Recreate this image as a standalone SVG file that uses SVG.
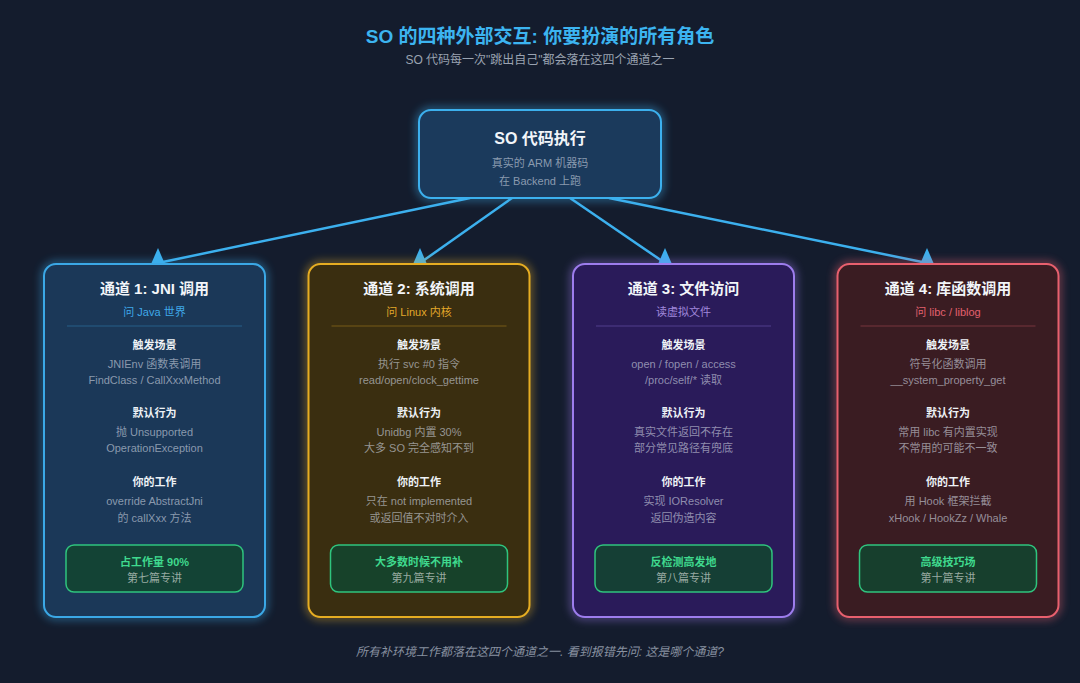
<svg xmlns="http://www.w3.org/2000/svg" width="1080" height="683" viewBox="0 0 1080 683">
<defs>
<filter id="glow" x="-20%" y="-20%" width="140%" height="140%">
<feGaussianBlur stdDeviation="4"/>
</filter>
<marker id="tri" markerUnits="userSpaceOnUse" markerWidth="16" markerHeight="14" refX="0" refY="6.5" orient="270" overflow="visible">
<path d="M0,0 L15,6.5 L0,13 z" fill="#3cb0ee"/>
</marker>
<style>
text{font-family:"Liberation Sans","Noto Sans CJK SC",sans-serif;text-anchor:middle}
.title{font-size:19px;font-weight:bold;fill:#3cb4f0}
.sub{font-size:12px;fill:#9aa3b1}
.ntitle{font-size:16px;font-weight:bold;fill:#f2f5f9}
.ctitle{font-size:15px;font-weight:bold;fill:#f2f5f9}
.csub{font-size:11px}
.hdr{font-size:11px;font-weight:bold;fill:#eef2f6}
.body{font-size:11px;fill:#d6dce6;fill-opacity:0.6}
.gtitle{font-size:11px;font-weight:bold;fill:#3fd98e}
.gsub{font-size:11px;fill:#c4cec8;fill-opacity:0.75}
.glowr{fill:none;stroke-width:5;opacity:0.6;filter:url(#glow)}
.card{stroke-width:2}
.gbox{fill:#12452f;fill-opacity:0.85;stroke:#2fc47e;stroke-width:1.5}
.conn{stroke:#3cb0ee;stroke-width:2.5;fill:none;marker-end:url(#tri)}
.foot{font-size:12px;font-style:italic;fill:#8891a0}
</style>
</defs>
<rect width="1080" height="683" fill="#141c2d"/>
<g id="header">
<text class="title" x="540" y="43">SO 的四种外部交互: 你要扮演的所有角色</text>
<text class="sub" x="540" y="64">SO 代码每一次"跳出自己"都会落在这四个通道之一</text>
</g>
<g id="connectors">
<line class="conn" x1="470" y1="198" x2="158" y2="263"/>
<line class="conn" x1="512" y1="198" x2="420" y2="263"/>
<line class="conn" x1="570" y1="198" x2="665" y2="263"/>
<line class="conn" x1="609" y1="198" x2="927" y2="263"/>
</g>
<g id="node-so">
<rect class="glowr" x="419" y="110" width="242" height="88" rx="12" stroke="#3cb0ee"/>
<rect class="card" x="419" y="110" width="242" height="88" rx="12" fill="#1b3a5c" stroke="#3cb0ee"/>
<text class="ntitle" x="540" y="144">SO 代码执行</text>
<text class="body" x="540" y="167">真实的 ARM 机器码</text>
<text class="body" x="540" y="185">在 Backend 上跑</text>
</g>
<g id="card-jni">
<rect class="glowr" x="44" y="264" width="221" height="353" rx="12" stroke="#3ba8e6"/>
<rect class="card" x="44" y="264" width="221" height="353" rx="12" fill="#1b3858" stroke="#3ba8e6"/>
<text class="ctitle" x="154.5" y="294">通道 1: JNI 调用</text>
<text class="csub" x="154.5" y="316" fill="#3fa8e8">问 Java 世界</text>
<line x1="67" y1="326" x2="242" y2="326" stroke="#3ba8e6" stroke-opacity="0.35"/>
<text class="hdr" x="154.5" y="349">触发场景</text>
<text class="body" x="154.5" y="368">JNIEnv 函数表调用</text>
<text class="body" x="154.5" y="384">FindClass / CallXxxMethod</text>
<text class="hdr" x="154.5" y="417">默认行为</text>
<text class="body" x="154.5" y="436">抛 Unsupported</text>
<text class="body" x="154.5" y="452">OperationException</text>
<text class="hdr" x="154.5" y="486">你的工作</text>
<text class="body" x="154.5" y="505">override AbstractJni</text>
<text class="body" x="154.5" y="522">的 callXxx 方法</text>
<rect class="gbox" x="66" y="545" width="177" height="47" rx="8"/>
<text class="gtitle" x="154.5" y="566">占工作量 90%</text>
<text class="gsub" x="154.5" y="582">第七篇专讲</text>
</g>
<g id="card-syscall">
<rect class="glowr" x="308.5" y="264" width="221" height="353" rx="12" stroke="#e6ad22"/>
<rect class="card" x="308.5" y="264" width="221" height="353" rx="12" fill="#3a2e10" stroke="#e6ad22"/>
<text class="ctitle" x="419" y="294">通道 2: 系统调用</text>
<text class="csub" x="419" y="316" fill="#e2a82a">问 Linux 内核</text>
<line x1="331.5" y1="326" x2="506.5" y2="326" stroke="#e6ad22" stroke-opacity="0.35"/>
<text class="hdr" x="419" y="349">触发场景</text>
<text class="body" x="419" y="368">执行 svc #0 指令</text>
<text class="body" x="419" y="384">read/open/clock_gettime</text>
<text class="hdr" x="419" y="417">默认行为</text>
<text class="body" x="419" y="436">Unidbg 内置 30%</text>
<text class="body" x="419" y="452">大多 SO 完全感知不到</text>
<text class="hdr" x="419" y="486">你的工作</text>
<text class="body" x="419" y="505">只在 not implemented</text>
<text class="body" x="419" y="522">或返回值不对时介入</text>
<rect class="gbox" x="330.5" y="545" width="177" height="47" rx="8"/>
<text class="gtitle" x="419" y="566">大多数时候不用补</text>
<text class="gsub" x="419" y="582">第九篇专讲</text>
</g>
<g id="card-file">
<rect class="glowr" x="573" y="264" width="221" height="353" rx="12" stroke="#9d7ded"/>
<rect class="card" x="573" y="264" width="221" height="353" rx="12" fill="#2a1b5a" stroke="#9d7ded"/>
<text class="ctitle" x="683.5" y="294">通道 3: 文件访问</text>
<text class="csub" x="683.5" y="316" fill="#a088dc">读虚拟文件</text>
<line x1="596" y1="326" x2="771" y2="326" stroke="#9d7ded" stroke-opacity="0.35"/>
<text class="hdr" x="683.5" y="349">触发场景</text>
<text class="body" x="683.5" y="368">open / fopen / access</text>
<text class="body" x="683.5" y="384">/proc/self/* 读取</text>
<text class="hdr" x="683.5" y="417">默认行为</text>
<text class="body" x="683.5" y="436">真实文件返回不存在</text>
<text class="body" x="683.5" y="452">部分常见路径有兜底</text>
<text class="hdr" x="683.5" y="486">你的工作</text>
<text class="body" x="683.5" y="505">实现 IOResolver</text>
<text class="body" x="683.5" y="522">返回伪造内容</text>
<rect class="gbox" x="595" y="545" width="177" height="47" rx="8"/>
<text class="gtitle" x="683.5" y="566">反检测高发地</text>
<text class="gsub" x="683.5" y="582">第八篇专讲</text>
</g>
<g id="card-libc">
<rect class="glowr" x="837.5" y="264" width="221" height="353" rx="12" stroke="#e8606e"/>
<rect class="card" x="837.5" y="264" width="221" height="353" rx="12" fill="#3a1c22" stroke="#e8606e"/>
<text class="ctitle" x="948" y="294">通道 4: 库函数调用</text>
<text class="csub" x="948" y="316" fill="#e2606e">问 libc / liblog</text>
<line x1="860.5" y1="326" x2="1035.5" y2="326" stroke="#e8606e" stroke-opacity="0.35"/>
<text class="hdr" x="948" y="349">触发场景</text>
<text class="body" x="948" y="368">符号化函数调用</text>
<text class="body" x="948" y="384">__system_property_get</text>
<text class="hdr" x="948" y="417">默认行为</text>
<text class="body" x="948" y="436">常用 libc 有内置实现</text>
<text class="body" x="948" y="452">不常用的可能不一致</text>
<text class="hdr" x="948" y="486">你的工作</text>
<text class="body" x="948" y="505">用 Hook 框架拦截</text>
<text class="body" x="948" y="522">xHook / HookZz / Whale</text>
<rect class="gbox" x="859.5" y="545" width="177" height="47" rx="8"/>
<text class="gtitle" x="948" y="566">高级技巧场</text>
<text class="gsub" x="948" y="582">第十篇专讲</text>
</g>
<g id="footer">
<text class="foot" x="540" y="656">所有补环境工作都落在这四个通道之一. 看到报错先问: 这是哪个通道?</text>
</g>
</svg>
